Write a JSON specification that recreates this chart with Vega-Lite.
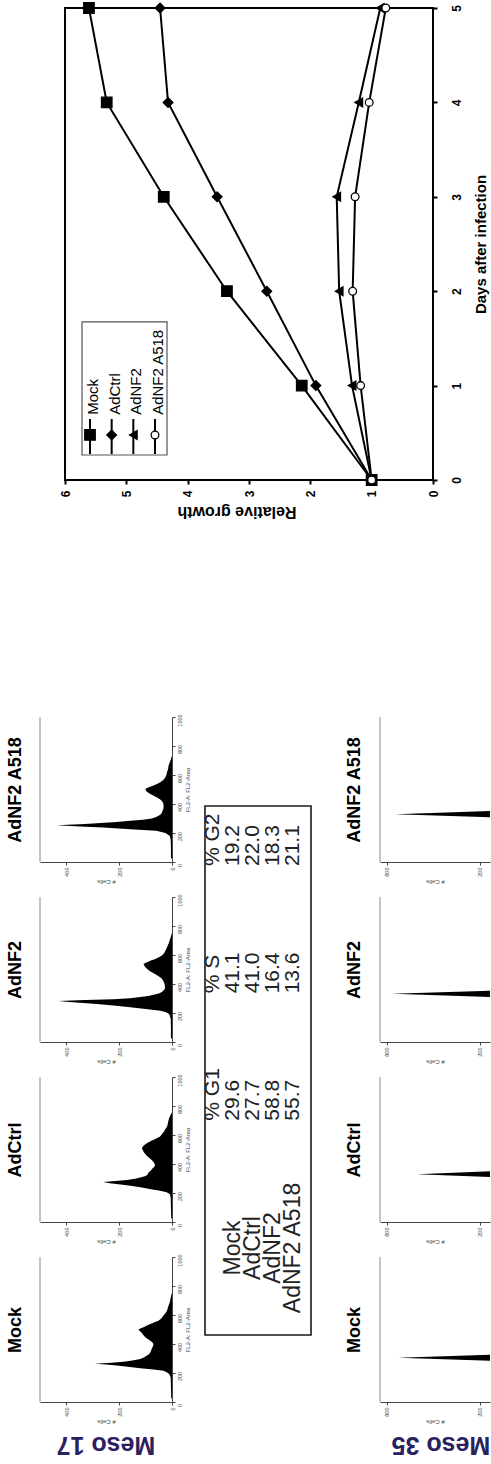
{
  "$schema": "https://vega.github.io/schema/vega-lite/v6.json",
  "background": "white",
  "padding": {"left": 6, "top": 0, "right": 0, "bottom": 6},
  "config": {
    "font": "Liberation Sans",
    "view": {"stroke": null},
    "axis": {
      "grid": false, "minExtent": 0, "labelOverlap": false, "labelFontSize": 5.5, "labelColor": "#444", "tickColor": "#444", "domainColor": "#444",
      "tickSize": 3, "labelPadding": 2, "titleFontSize": 6, "titleFontWeight": "normal", "titleColor": "#444",
      "titlePadding": 2, "domainWidth": 1, "tickWidth": 1
    },
    "axisY": {"minExtent": 0},
    "axisX": {"minExtent": 0},
    "title": {"font": "Liberation Sans"}
  },
  "datasets": {
    "growth": [
      {"series": "Mock", "day": 0, "growth": 1.0}, {"series": "Mock", "day": 1, "growth": 2.14}, {"series": "Mock", "day": 2, "growth": 3.36},
      {"series": "Mock", "day": 3, "growth": 4.39}, {"series": "Mock", "day": 4, "growth": 5.32}, {"series": "Mock", "day": 5, "growth": 5.61},
      {"series": "AdCtrl", "day": 0, "growth": 1.0}, {"series": "AdCtrl", "day": 1, "growth": 1.91}, {"series": "AdCtrl", "day": 2, "growth": 2.71},
      {"series": "AdCtrl", "day": 3, "growth": 3.52}, {"series": "AdCtrl", "day": 4, "growth": 4.32}, {"series": "AdCtrl", "day": 5, "growth": 4.45},
      {"series": "AdNF2", "day": 0, "growth": 1.0}, {"series": "AdNF2", "day": 1, "growth": 1.32}, {"series": "AdNF2", "day": 2, "growth": 1.53},
      {"series": "AdNF2", "day": 3, "growth": 1.57}, {"series": "AdNF2", "day": 4, "growth": 1.21}, {"series": "AdNF2", "day": 5, "growth": 0.86},
      {"series": "AdNF2 A518", "day": 0, "growth": 1.0}, {"series": "AdNF2 A518", "day": 1, "growth": 1.18}, {"series": "AdNF2 A518", "day": 2, "growth": 1.31},
      {"series": "AdNF2 A518", "day": 3, "growth": 1.27}, {"series": "AdNF2 A518", "day": 4, "growth": 1.04}, {"series": "AdNF2 A518", "day": 5, "growth": 0.77}
    ],
    "meso17_a518": [
      {"fl2": 20, "count": 0}, {"fl2": 30, "count": 4}, {"fl2": 100, "count": 4}, {"fl2": 150, "count": 5}, {"fl2": 180, "count": 8},
      {"fl2": 200, "count": 25}, {"fl2": 215, "count": 60}, {"fl2": 226, "count": 158}, {"fl2": 238, "count": 260}, {"fl2": 245, "count": 348},
      {"fl2": 254, "count": 437}, {"fl2": 262, "count": 330}, {"fl2": 268, "count": 285}, {"fl2": 276, "count": 210}, {"fl2": 284, "count": 158},
      {"fl2": 292, "count": 110}, {"fl2": 300, "count": 76}, {"fl2": 310, "count": 60}, {"fl2": 319, "count": 51}, {"fl2": 330, "count": 42},
      {"fl2": 342, "count": 38}, {"fl2": 370, "count": 32}, {"fl2": 395, "count": 32}, {"fl2": 411, "count": 34}, {"fl2": 425, "count": 40},
      {"fl2": 434, "count": 47}, {"fl2": 450, "count": 62}, {"fl2": 469, "count": 82}, {"fl2": 485, "count": 95}, {"fl2": 499, "count": 101},
      {"fl2": 508, "count": 97}, {"fl2": 518, "count": 85}, {"fl2": 527, "count": 70}, {"fl2": 540, "count": 55}, {"fl2": 550, "count": 44},
      {"fl2": 565, "count": 33}, {"fl2": 584, "count": 25}, {"fl2": 600, "count": 21}, {"fl2": 619, "count": 19}, {"fl2": 640, "count": 15},
      {"fl2": 665, "count": 13}, {"fl2": 690, "count": 8}, {"fl2": 711, "count": 4}, {"fl2": 734, "count": 0}
    ],
    "meso17_adnf2": [
      {"fl2": 20, "count": 0}, {"fl2": 30, "count": 4}, {"fl2": 100, "count": 4}, {"fl2": 160, "count": 5}, {"fl2": 192, "count": 10},
      {"fl2": 205, "count": 22}, {"fl2": 215, "count": 44}, {"fl2": 228, "count": 100}, {"fl2": 240, "count": 158}, {"fl2": 252, "count": 222},
      {"fl2": 262, "count": 285}, {"fl2": 270, "count": 350}, {"fl2": 277, "count": 400}, {"fl2": 283, "count": 430}, {"fl2": 289, "count": 330},
      {"fl2": 295, "count": 222}, {"fl2": 302, "count": 160}, {"fl2": 310, "count": 120}, {"fl2": 318, "count": 90}, {"fl2": 326, "count": 70},
      {"fl2": 335, "count": 50}, {"fl2": 345, "count": 38}, {"fl2": 365, "count": 27}, {"fl2": 390, "count": 27}, {"fl2": 411, "count": 30},
      {"fl2": 425, "count": 34}, {"fl2": 440, "count": 40}, {"fl2": 455, "count": 52}, {"fl2": 470, "count": 66}, {"fl2": 490, "count": 85},
      {"fl2": 510, "count": 98}, {"fl2": 525, "count": 104}, {"fl2": 538, "count": 108}, {"fl2": 550, "count": 95}, {"fl2": 562, "count": 80},
      {"fl2": 573, "count": 63}, {"fl2": 585, "count": 50}, {"fl2": 596, "count": 38}, {"fl2": 612, "count": 30}, {"fl2": 630, "count": 25},
      {"fl2": 648, "count": 20}, {"fl2": 665, "count": 16}, {"fl2": 683, "count": 12}, {"fl2": 700, "count": 9}, {"fl2": 717, "count": 6},
      {"fl2": 734, "count": 3}, {"fl2": 757, "count": 0}
    ],
    "meso17_adctrl": [
      {"fl2": 20, "count": 0}, {"fl2": 30, "count": 3}, {"fl2": 100, "count": 4}, {"fl2": 170, "count": 5}, {"fl2": 192, "count": 8},
      {"fl2": 205, "count": 20}, {"fl2": 215, "count": 45}, {"fl2": 226, "count": 80}, {"fl2": 238, "count": 115}, {"fl2": 248, "count": 150},
      {"fl2": 258, "count": 195}, {"fl2": 268, "count": 235}, {"fl2": 276, "count": 261}, {"fl2": 283, "count": 215}, {"fl2": 290, "count": 171},
      {"fl2": 298, "count": 140}, {"fl2": 307, "count": 120}, {"fl2": 317, "count": 100}, {"fl2": 327, "count": 92}, {"fl2": 342, "count": 89},
      {"fl2": 355, "count": 80}, {"fl2": 367, "count": 75}, {"fl2": 380, "count": 68}, {"fl2": 392, "count": 64}, {"fl2": 405, "count": 67},
      {"fl2": 418, "count": 72}, {"fl2": 430, "count": 78}, {"fl2": 445, "count": 88}, {"fl2": 462, "count": 98}, {"fl2": 480, "count": 106},
      {"fl2": 496, "count": 111}, {"fl2": 510, "count": 114}, {"fl2": 520, "count": 110}, {"fl2": 530, "count": 106}, {"fl2": 540, "count": 98},
      {"fl2": 550, "count": 89}, {"fl2": 562, "count": 76}, {"fl2": 573, "count": 63}, {"fl2": 590, "count": 45}, {"fl2": 607, "count": 38},
      {"fl2": 625, "count": 30}, {"fl2": 642, "count": 25}, {"fl2": 660, "count": 18}, {"fl2": 677, "count": 16}, {"fl2": 695, "count": 14},
      {"fl2": 711, "count": 12}, {"fl2": 725, "count": 9}, {"fl2": 740, "count": 5}, {"fl2": 757, "count": 0}
    ],
    "meso17_mock": [
      {"fl2": 20, "count": 0}, {"fl2": 30, "count": 3}, {"fl2": 100, "count": 4}, {"fl2": 170, "count": 5}, {"fl2": 192, "count": 10},
      {"fl2": 205, "count": 20}, {"fl2": 215, "count": 32}, {"fl2": 224, "count": 70}, {"fl2": 232, "count": 120}, {"fl2": 242, "count": 160},
      {"fl2": 251, "count": 209}, {"fl2": 258, "count": 250}, {"fl2": 264, "count": 292}, {"fl2": 271, "count": 230}, {"fl2": 278, "count": 184},
      {"fl2": 287, "count": 150}, {"fl2": 297, "count": 120}, {"fl2": 308, "count": 105}, {"fl2": 320, "count": 95}, {"fl2": 331, "count": 86},
      {"fl2": 343, "count": 82}, {"fl2": 356, "count": 79}, {"fl2": 370, "count": 76}, {"fl2": 385, "count": 72}, {"fl2": 400, "count": 70},
      {"fl2": 412, "count": 75}, {"fl2": 423, "count": 82}, {"fl2": 435, "count": 92}, {"fl2": 446, "count": 101}, {"fl2": 460, "count": 108},
      {"fl2": 476, "count": 114}, {"fl2": 490, "count": 122}, {"fl2": 500, "count": 127}, {"fl2": 508, "count": 118}, {"fl2": 516, "count": 108},
      {"fl2": 527, "count": 95}, {"fl2": 538, "count": 82}, {"fl2": 550, "count": 66}, {"fl2": 561, "count": 51}, {"fl2": 578, "count": 40},
      {"fl2": 596, "count": 32}, {"fl2": 612, "count": 25}, {"fl2": 630, "count": 19}, {"fl2": 648, "count": 16}, {"fl2": 665, "count": 13},
      {"fl2": 690, "count": 8}, {"fl2": 711, "count": 6}, {"fl2": 734, "count": 3}, {"fl2": 757, "count": 0}
    ],
    "meso35_a518": [{"fl2": 304, "count": 0}, {"fl2": 330, "count": 748}, {"fl2": 356, "count": 0}],
    "meso35_adnf2": [{"fl2": 306, "count": 0}, {"fl2": 332, "count": 768}, {"fl2": 358, "count": 0}],
    "meso35_adctrl": [{"fl2": 304, "count": 0}, {"fl2": 330, "count": 606}, {"fl2": 356, "count": 0}],
    "meso35_mock": [{"fl2": 279, "count": 0}, {"fl2": 305, "count": 729}, {"fl2": 331, "count": 0}],
    "cycle": [
      {"condition": "Mock", "G1": 29.6, "S": 41.1, "G2": 19.2},
      {"condition": "AdCtrl", "G1": 27.7, "S": 41.0, "G2": 22.0},
      {"condition": "AdNF2", "G1": 58.8, "S": 16.4, "G2": 18.3},
      {"condition": "AdNF2 A518", "G1": 55.7, "S": 13.6, "G2": 21.1}
    ]
  },
  "vconcat": [
    {
      "width": 393,
      "height": 472,
      "resolve": {"scale": {"x": "independent"}},
      "layer": [
        {
          "data": {"name": "growth"},
          "layer": [
            {
              "data": {"values": [{}]},
              "mark": {"type": "rect", "fillOpacity": 0, "stroke": "#000", "strokeWidth": 2},
              "encoding": {"x": {"datum": 6}, "x2": {"datum": 0}, "y": {"datum": 0}, "y2": {"datum": 5}}
            },
            {
              "data": {"values": [{}]},
              "mark": {"type": "rect", "fillOpacity": 0, "stroke": "#555", "strokeWidth": 1.2},
              "encoding": {"x": {"datum": 5.723}, "x2": {"datum": 4.337}, "y": {"datum": 1.674}, "y2": {"datum": 0.265}}
            },
            {
              "mark": {"type": "line", "color": "#000", "strokeWidth": 2},
              "encoding": {
                "x": {
                  "field": "growth", "type": "quantitative",
                  "scale": {"domain": [0, 6.408], "reverse": true, "nice": false},
                  "axis": {
                    "orient": "bottom", "values": [0, 1, 2, 3, 4, 5, 6], "format": "d", "domain": false,
                    "tickSize": 4, "tickWidth": 2, "tickColor": "#000",
                    "labelAngle": 270, "labelAlign": "right", "labelBaseline": "middle", "labelPadding": 6,
                    "labelFontSize": 12, "labelFontWeight": "bold", "labelColor": "#000",
                    "title": "Relative growth", "titleAngle": 180, "titleBaseline": "bottom", "titlePadding": 7,
                    "titleFontSize": 16, "titleFontWeight": "bold", "titleColor": "#000"
                  }
                },
                "y": {
                  "field": "day", "type": "quantitative",
                  "scale": {"domain": [0, 5], "nice": false},
                  "axis": {
                    "orient": "right", "values": [0, 1, 2, 3, 4, 5], "format": "d", "domain": false,
                    "tickSize": 4, "tickWidth": 2, "tickColor": "#000",
                    "labelAngle": 270, "labelAlign": "center", "labelBaseline": "top", "labelPadding": 14,
                    "labelFontSize": 12, "labelFontWeight": "bold", "labelColor": "#000",
                    "title": "Days after infection", "titleAngle": 270, "titleBaseline": "top", "titlePadding": 11,
                    "titleFontSize": 15, "titleFontWeight": "bold", "titleColor": "#000"
                  }
                },
                "detail": {"field": "series"},
                "order": {"field": "day"}
              }
            },
            {
              "mark": {"type": "point", "filled": true, "stroke": "#000", "strokeWidth": 1.3, "opacity": 1},
              "encoding": {
                "x": {"field": "growth", "type": "quantitative"},
                "y": {"field": "day", "type": "quantitative"},
                "shape": {"field": "series", "scale": {"domain": ["Mock", "AdCtrl", "AdNF2", "AdNF2 A518"], "range": ["square", "diamond", "triangle-left", "circle"]}, "legend": null},
                "fill": {"field": "series", "scale": {"domain": ["Mock", "AdCtrl", "AdNF2", "AdNF2 A518"], "range": ["#000", "#000", "#000", "#fff"]}, "legend": null},
                "size": {"field": "series", "scale": {"domain": ["Mock", "AdCtrl", "AdNF2", "AdNF2 A518"], "range": [110, 60, 60, 45]}, "legend": null}
              }
            }
          ]
        },
        {
          "data": {"values": [{"series": "Mock"}, {"series": "AdCtrl"}, {"series": "AdNF2"}, {"series": "AdNF2 A518"}]},
          "layer": [
            {
              "mark": {"type": "rule", "color": "#000", "strokeWidth": 2},
              "encoding": {
                "x": {"field": "series", "type": "nominal", "scale": {"type": "point", "padding": 0, "domain": ["Mock", "AdCtrl", "AdNF2", "AdNF2 A518"], "range": [50, 115]}, "axis": null},
                "y": {"datum": 0.646}, "y2": {"datum": 0.275}
              }
            },
            {
              "mark": {"type": "point", "filled": true, "stroke": "#000", "strokeWidth": 1.3, "opacity": 1},
              "encoding": {
                "x": {"field": "series", "type": "nominal", "axis": null},
                "y": {"datum": 0.477},
                "shape": {"field": "series", "legend": null},
                "fill": {"field": "series", "legend": null},
                "size": {"field": "series", "legend": null}
              }
            },
            {
              "mark": {"type": "text", "angle": 270, "align": "left", "baseline": "middle", "fontSize": 15, "dy": 3, "color": "#000"},
              "encoding": {
                "x": {"field": "series", "type": "nominal", "axis": null},
                "y": {"datum": 0.69},
                "text": {"field": "series"}
              }
            }
          ]
        }
      ]
    },
    {
      "hconcat": [
        {
          "vconcat": [
            {
              "width": 132, "height": 145,
              "resolve": {"axis": {"y": "independent"}},
              "layer": [
                {
                  "data": {"name": "meso17_a518"},
                  "mark": {"type": "area", "orient": "horizontal", "color": "#000"},
                  "encoding": {
                    "x": {"field": "count", "type": "quantitative", "scale": {"domain": [0, 500], "reverse": true, "nice": false},
                      "axis": {"values": [0, 100, 200, 300, 400, 500], "format": "d", "labelOverlap": false, "labelAngle": 270, "labelAlign": "right", "labelBaseline": "middle", "title": "# Cells", "titleAngle": 180, "titleBaseline": "bottom"}},
                    "y": {"field": "fl2", "type": "quantitative", "scale": {"domain": [0, 1000], "nice": false},
                      "axis": {"orient": "right", "values": [0, 200, 400, 600, 800, 1000], "format": "d", "labelOverlap": false, "labelAngle": 270, "labelAlign": "center", "labelBaseline": "top", "labelOffset": 3, "title": "FL2-A: FL2-Area", "titleAngle": 270, "titleBaseline": "top"}}
                  }
                },
                {
                  "data": {"values": [{}]},
                  "mark": {"type": "rule", "color": "#a0a0a0", "strokeWidth": 1.2},
                  "encoding": {
                    "x": {"datum": 500},
                    "y": {"datum": 0, "type": "quantitative", "axis": {"orient": "left", "labels": false, "ticks": false, "domain": false, "title": "AdNF2 A518", "titleFontSize": 18, "titleFontWeight": "bold", "titleColor": "#000", "titlePadding": 16}},
                    "y2": {"datum": 1000}
                  }
                }
              ]
            },
            {
              "width": 132, "height": 145,
              "resolve": {"axis": {"y": "independent"}},
              "layer": [
                {
                  "data": {"name": "meso17_adnf2"},
                  "mark": {"type": "area", "orient": "horizontal", "color": "#000"},
                  "encoding": {
                    "x": {"field": "count", "type": "quantitative", "scale": {"domain": [0, 500], "reverse": true, "nice": false},
                      "axis": {"values": [0, 100, 200, 300, 400, 500], "format": "d", "labelOverlap": false, "labelAngle": 270, "labelAlign": "right", "labelBaseline": "middle", "title": "# Cells", "titleAngle": 180, "titleBaseline": "bottom"}},
                    "y": {"field": "fl2", "type": "quantitative", "scale": {"domain": [0, 1000], "nice": false},
                      "axis": {"orient": "right", "values": [0, 200, 400, 600, 800, 1000], "format": "d", "labelOverlap": false, "labelAngle": 270, "labelAlign": "center", "labelBaseline": "top", "labelOffset": 3, "title": "FL2-A: FL2-Area", "titleAngle": 270, "titleBaseline": "top"}}
                  }
                },
                {
                  "data": {"values": [{}]},
                  "mark": {"type": "rule", "color": "#a0a0a0", "strokeWidth": 1.2},
                  "encoding": {
                    "x": {"datum": 500},
                    "y": {"datum": 0, "type": "quantitative", "axis": {"orient": "left", "labels": false, "ticks": false, "domain": false, "title": "AdNF2", "titleFontSize": 18, "titleFontWeight": "bold", "titleColor": "#000", "titlePadding": 16}},
                    "y2": {"datum": 1000}
                  }
                }
              ]
            },
            {
              "width": 132, "height": 145,
              "resolve": {"axis": {"y": "independent"}},
              "layer": [
                {
                  "data": {"name": "meso17_adctrl"},
                  "mark": {"type": "area", "orient": "horizontal", "color": "#000"},
                  "encoding": {
                    "x": {"field": "count", "type": "quantitative", "scale": {"domain": [0, 500], "reverse": true, "nice": false},
                      "axis": {"values": [0, 100, 200, 300, 400, 500], "format": "d", "labelOverlap": false, "labelAngle": 270, "labelAlign": "right", "labelBaseline": "middle", "title": "# Cells", "titleAngle": 180, "titleBaseline": "bottom"}},
                    "y": {"field": "fl2", "type": "quantitative", "scale": {"domain": [0, 1000], "nice": false},
                      "axis": {"orient": "right", "values": [0, 200, 400, 600, 800, 1000], "format": "d", "labelOverlap": false, "labelAngle": 270, "labelAlign": "center", "labelBaseline": "top", "labelOffset": 3, "title": "FL2-A: FL2-Area", "titleAngle": 270, "titleBaseline": "top"}}
                  }
                },
                {
                  "data": {"values": [{}]},
                  "mark": {"type": "rule", "color": "#a0a0a0", "strokeWidth": 1.2},
                  "encoding": {
                    "x": {"datum": 500},
                    "y": {"datum": 0, "type": "quantitative", "axis": {"orient": "left", "labels": false, "ticks": false, "domain": false, "title": "AdCtrl", "titleFontSize": 18, "titleFontWeight": "bold", "titleColor": "#000", "titlePadding": 16}},
                    "y2": {"datum": 1000}
                  }
                }
              ]
            },
            {
              "width": 132, "height": 145,
              "resolve": {"axis": {"y": "independent"}},
              "title": {"text": "Meso 17", "orient": "bottom", "angle": 180, "baseline": "bottom", "fontSize": 25, "fontWeight": "bold", "color": "#2b215e", "offset": 8},
              "layer": [
                {
                  "data": {"name": "meso17_mock"},
                  "mark": {"type": "area", "orient": "horizontal", "color": "#000"},
                  "encoding": {
                    "x": {"field": "count", "type": "quantitative", "scale": {"domain": [0, 500], "reverse": true, "nice": false},
                      "axis": {"values": [0, 100, 200, 300, 400, 500], "format": "d", "labelOverlap": false, "labelAngle": 270, "labelAlign": "right", "labelBaseline": "middle", "title": "# Cells", "titleAngle": 180, "titleBaseline": "bottom"}},
                    "y": {"field": "fl2", "type": "quantitative", "scale": {"domain": [0, 1000], "nice": false},
                      "axis": {"orient": "right", "values": [0, 200, 400, 600, 800, 1000], "format": "d", "labelOverlap": false, "labelAngle": 270, "labelAlign": "center", "labelBaseline": "top", "labelOffset": 3, "title": "FL2-A: FL2-Area", "titleAngle": 270, "titleBaseline": "top"}}
                  }
                },
                {
                  "data": {"values": [{}]},
                  "mark": {"type": "rule", "color": "#a0a0a0", "strokeWidth": 1.2},
                  "encoding": {
                    "x": {"datum": 500},
                    "y": {"datum": 0, "type": "quantitative", "axis": {"orient": "left", "labels": false, "ticks": false, "domain": false, "title": "Mock", "titleFontSize": 18, "titleFontWeight": "bold", "titleColor": "#000", "titlePadding": 16}},
                    "y2": {"datum": 1000}
                  }
                }
              ]
            }
          ],
          "spacing": 35,
          "bounds": "flush"
        },
        {
          "vconcat": [
            {"width": 130, "height": 89, "data": {"values": []}, "mark": "rect"},
            {
              "width": 106, "height": 529,
              "view": {"stroke": "#1a1a1a", "strokeWidth": 1.6},
              "data": {"name": "cycle"},
              "layer": [
                {
                  "transform": [{"fold": ["G1", "S", "G2"], "as": ["phase", "pct"]}],
                  "mark": {"type": "text", "angle": 270, "align": "left", "baseline": "middle", "fontSize": 21, "color": "#222"},
                  "encoding": {
                    "x": {"field": "condition", "type": "nominal", "scale": {"type": "point", "padding": 0, "domain": ["header", "Mock", "AdCtrl", "AdNF2", "AdNF2 A518"], "range": [8, 88]}, "axis": null},
                    "y": {"field": "phase", "type": "nominal", "scale": {"type": "point", "padding": 0, "domain": ["G2", "S", "G1", "label"], "range": [60, 442]}, "axis": null},
                    "text": {"field": "pct", "type": "quantitative", "format": ".1f"}
                  }
                },
                {
                  "data": {"values": [{"phase": "G1", "head": "% G1"}, {"phase": "S", "head": "% S"}, {"phase": "G2", "head": "% G2"}]},
                  "mark": {"type": "text", "angle": 270, "align": "left", "baseline": "middle", "fontSize": 21, "color": "#222"},
                  "encoding": {
                    "x": {"datum": "header", "type": "nominal"},
                    "y": {"field": "phase", "type": "nominal"},
                    "text": {"field": "head"}
                  }
                },
                {
                  "mark": {"type": "text", "angle": 270, "align": "center", "baseline": "middle", "fontSize": 23, "color": "#222"},
                  "encoding": {
                    "x": {"field": "condition", "type": "nominal"},
                    "y": {"datum": "label", "type": "nominal"},
                    "text": {"field": "condition"}
                  }
                }
              ]
            }
          ],
          "spacing": 0,
          "bounds": "flush"
        },
        {
          "vconcat": [
            {
              "width": 110, "height": 145,
              "resolve": {"axis": {"y": "independent"}},
              "layer": [
                {
                  "data": {"name": "meso35_a518"},
                  "mark": {"type": "area", "orient": "horizontal", "color": "#000", "clip": true},
                  "encoding": {
                    "x": {"field": "count", "type": "quantitative", "scale": {"domain": [135, 845], "reverse": true, "nice": false, "zero": false},
                      "axis": {"values": [200, 400, 600, 800], "format": "d", "labelOverlap": false, "labelAngle": 270, "labelAlign": "right", "labelBaseline": "middle", "title": "# Cells", "titleAngle": 180, "titleBaseline": "bottom"}},
                    "y": {"field": "fl2", "type": "quantitative", "scale": {"domain": [0, 1000], "nice": false}, "axis": null}
                  }
                },
                {
                  "data": {"values": [{}]},
                  "mark": {"type": "rule", "color": "#a0a0a0", "strokeWidth": 1.2},
                  "encoding": {
                    "x": {"datum": 845},
                    "y": {"datum": 0, "type": "quantitative", "axis": {"orient": "left", "labels": false, "ticks": false, "domain": false, "title": "AdNF2 A518", "titleFontSize": 18, "titleFontWeight": "bold", "titleColor": "#000", "titlePadding": 17}},
                    "y2": {"datum": 1000}
                  }
                }
              ]
            },
            {
              "width": 110, "height": 145,
              "resolve": {"axis": {"y": "independent"}},
              "layer": [
                {
                  "data": {"name": "meso35_adnf2"},
                  "mark": {"type": "area", "orient": "horizontal", "color": "#000", "clip": true},
                  "encoding": {
                    "x": {"field": "count", "type": "quantitative", "scale": {"domain": [135, 845], "reverse": true, "nice": false, "zero": false},
                      "axis": {"values": [200, 400, 600, 800], "format": "d", "labelOverlap": false, "labelAngle": 270, "labelAlign": "right", "labelBaseline": "middle", "title": "# Cells", "titleAngle": 180, "titleBaseline": "bottom"}},
                    "y": {"field": "fl2", "type": "quantitative", "scale": {"domain": [0, 1000], "nice": false}, "axis": null}
                  }
                },
                {
                  "data": {"values": [{}]},
                  "mark": {"type": "rule", "color": "#a0a0a0", "strokeWidth": 1.2},
                  "encoding": {
                    "x": {"datum": 845},
                    "y": {"datum": 0, "type": "quantitative", "axis": {"orient": "left", "labels": false, "ticks": false, "domain": false, "title": "AdNF2", "titleFontSize": 18, "titleFontWeight": "bold", "titleColor": "#000", "titlePadding": 17}},
                    "y2": {"datum": 1000}
                  }
                }
              ]
            },
            {
              "width": 110, "height": 145,
              "resolve": {"axis": {"y": "independent"}},
              "layer": [
                {
                  "data": {"name": "meso35_adctrl"},
                  "mark": {"type": "area", "orient": "horizontal", "color": "#000", "clip": true},
                  "encoding": {
                    "x": {"field": "count", "type": "quantitative", "scale": {"domain": [135, 845], "reverse": true, "nice": false, "zero": false},
                      "axis": {"values": [200, 400, 600, 800], "format": "d", "labelOverlap": false, "labelAngle": 270, "labelAlign": "right", "labelBaseline": "middle", "title": "# Cells", "titleAngle": 180, "titleBaseline": "bottom"}},
                    "y": {"field": "fl2", "type": "quantitative", "scale": {"domain": [0, 1000], "nice": false}, "axis": null}
                  }
                },
                {
                  "data": {"values": [{}]},
                  "mark": {"type": "rule", "color": "#a0a0a0", "strokeWidth": 1.2},
                  "encoding": {
                    "x": {"datum": 845},
                    "y": {"datum": 0, "type": "quantitative", "axis": {"orient": "left", "labels": false, "ticks": false, "domain": false, "title": "AdCtrl", "titleFontSize": 18, "titleFontWeight": "bold", "titleColor": "#000", "titlePadding": 17}},
                    "y2": {"datum": 1000}
                  }
                }
              ]
            },
            {
              "width": 110, "height": 145,
              "resolve": {"axis": {"y": "independent"}},
              "title": {"text": "Meso 35", "orient": "bottom", "angle": 180, "baseline": "bottom", "fontSize": 25, "fontWeight": "bold", "color": "#2b215e", "offset": 8, "dx": -6},
              "layer": [
                {
                  "data": {"name": "meso35_mock"},
                  "mark": {"type": "area", "orient": "horizontal", "color": "#000", "clip": true},
                  "encoding": {
                    "x": {"field": "count", "type": "quantitative", "scale": {"domain": [135, 845], "reverse": true, "nice": false, "zero": false},
                      "axis": {"values": [200, 400, 600, 800], "format": "d", "labelOverlap": false, "labelAngle": 270, "labelAlign": "right", "labelBaseline": "middle", "title": "# Cells", "titleAngle": 180, "titleBaseline": "bottom"}},
                    "y": {"field": "fl2", "type": "quantitative", "scale": {"domain": [0, 1000], "nice": false}, "axis": null}
                  }
                },
                {
                  "data": {"values": [{}]},
                  "mark": {"type": "rule", "color": "#a0a0a0", "strokeWidth": 1.2},
                  "encoding": {
                    "x": {"datum": 845},
                    "y": {"datum": 0, "type": "quantitative", "axis": {"orient": "left", "labels": false, "ticks": false, "domain": false, "title": "Mock", "titleFontSize": 18, "titleFontWeight": "bold", "titleColor": "#000", "titlePadding": 17}},
                    "y2": {"datum": 1000}
                  }
                }
              ]
            }
          ],
          "spacing": 35,
          "bounds": "flush"
        }
      ],
      "spacing": 10
    }
  ],
  "spacing": 193
}
